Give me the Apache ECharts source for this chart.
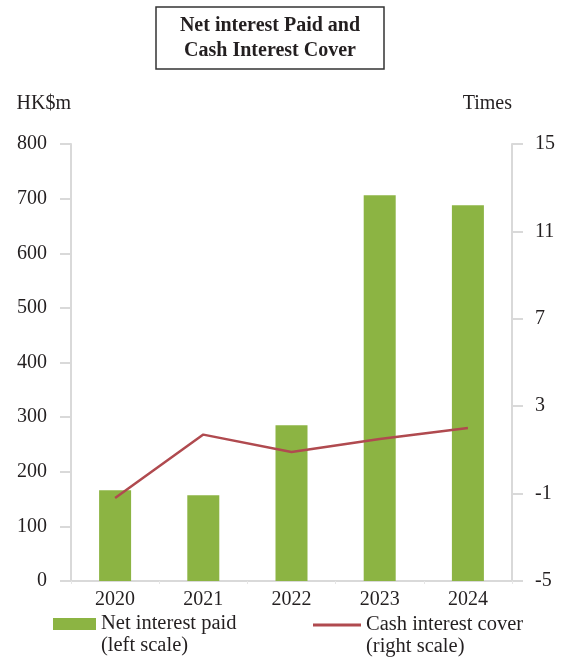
<!DOCTYPE html>
<html>
<head>
<meta charset="utf-8">
<script src="https://cdn.jsdelivr.net/npm/echarts@6/dist/echarts.min.js"></script>
<style>
  html, body { margin: 0; padding: 0; background: #fff; }
  #chart { width: 565px; height: 657px; }
</style>
</head>
<body>
<div id="chart"></div>
<script>
// data
const years = ['2020', '2021', '2022', '2023', '2024']
const netInterestPaid = [166, 157, 285, 706, 688]   // HK$m, left scale
const cashInterestCover = [-1.2, 1.7, 0.9, 1.5, 2.0] // times, right scale
const leftTicks = { min: 0, max: 800, interval: 100 }
const rightTicks = { min: -5, max: 15, interval: 4 }

const font = 'Liberation Serif'
const ink = '#231f20'
const axisGrey = '#d9d9d9'
const barColor = '#8cb443'
const lineColor = '#b04a4f'

const chart = echarts.init(document.getElementById('chart'))

chart.setOption({
  animation: false,
  title: {
    text: 'Net interest Paid and\nCash Interest Cover',
    left: 246,
    top: 7,
    textAlign: 'center',
    borderColor: '#333',
    borderWidth: 1.5,
    padding: [6, 24, 6, 24],
    itemGap: 0,
    textStyle: {
      fontFamily: font,
      fontWeight: 'bold',
      fontSize: 20,
      lineHeight: 25,
      color: ink
    }
  },
  grid: {
    left: 71,
    right: 53,
    top: 144,
    bottom: 76
  },
  legend: [
    {
      data: [{ name: 'Net interest paid', icon: 'rect' }],
      left: 53,
      top: 591,
      padding: 0,
      itemWidth: 43,
      itemHeight: 12,
      itemGap: 7,
      // blank first line keeps the icon level with the first text line
      formatter: function(name) { return ' \n' + name + '\n(left scale)' },
      textStyle: { fontFamily: font, fontSize: 20.5, lineHeight: 22, color: ink }
    },
    {
      data: [{ name: 'Cash interest cover', icon: 'rect' }],
      left: 313,
      top: 592,
      padding: 0,
      itemWidth: 48,
      itemHeight: 3,
      itemGap: 4,
      formatter: function(name) { return ' \n' + name + '\n(right scale)' },
      textStyle: { fontFamily: font, fontSize: 20.5, lineHeight: 22, color: ink }
    }
  ],
  xAxis: {
    type: 'category',
    data: years,
    axisLine: { lineStyle: { color: axisGrey, width: 2 } },
    axisTick: { show: true, length: 3, lineStyle: { color: '#e6e6e6' } },
    axisLabel: { fontFamily: font, fontSize: 20, color: ink, margin: 9 }
  },
  yAxis: [
    {
      type: 'value',
      name: 'HK$m',
      nameLocation: 'end',
      nameGap: 30,
      nameTextStyle: { fontFamily: font, fontSize: 20, color: ink, align: 'right' },
      min: leftTicks.min,
      max: leftTicks.max,
      interval: leftTicks.interval,
      splitLine: { show: false },
      axisLine: { show: true, lineStyle: { color: axisGrey, width: 2 } },
      axisTick: { show: true, length: 11, lineStyle: { color: axisGrey, width: 2 } },
      axisLabel: { fontFamily: font, fontSize: 20, color: ink, margin: 24 }
    },
    {
      type: 'value',
      name: 'Times',
      nameLocation: 'end',
      nameGap: 30,
      nameTextStyle: { fontFamily: font, fontSize: 20, color: ink, align: 'right' },
      min: rightTicks.min,
      max: rightTicks.max,
      interval: rightTicks.interval,
      splitLine: { show: false },
      axisLine: { show: true, lineStyle: { color: axisGrey, width: 2 } },
      axisTick: { show: true, length: 11, lineStyle: { color: axisGrey, width: 2 } },
      axisLabel: { fontFamily: font, fontSize: 20, color: ink, margin: 23 }
    }
  ],
  series: [
    {
      name: 'Net interest paid',
      type: 'bar',
      yAxisIndex: 0,
      barWidth: 32,
      itemStyle: { color: barColor },
      data: netInterestPaid
    },
    {
      name: 'Cash interest cover',
      type: 'line',
      yAxisIndex: 1,
      showSymbol: false,
      symbol: 'none',
      itemStyle: { color: lineColor },
      lineStyle: { color: lineColor, width: 2.5 },
      data: cashInterestCover
    }
  ]
})
</script>
</body>
</html>
